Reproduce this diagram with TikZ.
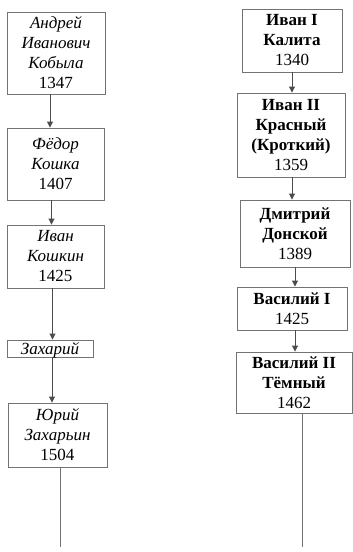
\documentclass[tikz,border=0pt]{standalone}
\usepackage{fontspec}
\setmainfont{Liberation Serif}
\usetikzlibrary{arrows.meta}

\begin{document}
\begin{tikzpicture}[
  x=1pt, y=-1pt,
  every node/.style = {font=\fontsize{17}{20}\selectfont},
  gen/.style     = {rectangle, draw=black!55, line width=0.9pt, align=center,
                    inner sep=0pt},
  genone/.style  = {rectangle, draw=black!55, line width=0.9pt, inner sep=0pt,
                    text height=13pt, text depth=2pt},
  arr/.style     = {-{Triangle[length=6pt,width=6pt]}, draw=black!70, line width=0.9pt},
  tail/.style    = {draw=black!55, line width=0.9pt},
]
\useasboundingbox (0,0) rectangle (353,552);
% Koshkins (left)
\node[gen, minimum width=98pt, minimum height=82pt] (andrey) at (56,53)
  {\textit{Андрей}\\\textit{Иванович}\\\textit{Кобыла}\\1347};
\node[gen, minimum width=97pt, minimum height=72pt] (fedor) at (55.5,164)
  {\textit{Фёдор}\\\textit{Кошка}\\1407};
\node[gen, minimum width=97pt, minimum height=63pt] (ivank) at (55.5,256.5)
  {\textit{Иван}\\\textit{Кошкин}\\1425};
\node[genone, minimum width=86pt, minimum height=17pt] (zahar) at (50,348.5)
  {\textit{Захарий}};
\node[gen, minimum width=99pt, minimum height=64pt] (yuri) at (57.5,435)
  {\textit{Юрий}\\\textit{Захарьин}\\1504};
\coordinate (yuriend) at (60,547);
% Moscow princes (right)
\node[gen, minimum width=100pt, minimum height=63pt] (ivanone) at (292,40.5)
  {\textbf{Иван I}\\\textbf{Калита}\\1340};
\node[gen, minimum width=108pt, minimum height=84pt] (ivantwo) at (291,135)
  {\textbf{Иван II}\\\textbf{Красный}\\\textbf{(Кроткий)}\\1359};
\node[gen, minimum width=110pt, minimum height=67pt] (dmitry) at (295,233.5)
  {\textbf{Дмитрий}\\\textbf{Донской}\\1389};
\node[gen, minimum width=110pt, minimum height=43pt] (vasone) at (292,308.5)
  {\textbf{Василий I}\\1425};
\node[gen, minimum width=116pt, minimum height=61pt] (vastwo) at (294,382.5)
  {\textbf{Василий II}\\\textbf{Тёмный}\\1462};
\coordinate (vasend) at (302,547);
\draw[arr] ([xshift=-6pt]andrey.south) -- ([xshift=-6pt]andrey.south |- fedor.north);
\draw[arr] ([xshift=-4pt]fedor.south)  -- ([xshift=-4pt]fedor.south |- ivank.north);
\draw[arr] ([xshift=-3pt]ivank.south)  -- ([xshift=-3pt]ivank.south |- zahar.north);
\draw[arr] ([xshift=2pt]zahar.south)   -- ([xshift=2pt]zahar.south |- yuri.north);
\draw[tail] (yuriend |- yuri.south) -- (yuriend);
\draw[arr] (ivanone.south) -- (ivanone.south |- ivantwo.north);
\draw[arr] ([xshift=1pt]ivantwo.south) -- ([xshift=1pt]ivantwo.south |- dmitry.north);
\draw[arr] (dmitry.south) -- (dmitry.south |- vasone.north);
\draw[arr] ([xshift=3pt]vasone.south) -- ([xshift=3pt]vasone.south |- vastwo.north);
\draw[tail] (vasend |- vastwo.south) -- (vasend);
\end{tikzpicture}
\end{document}
